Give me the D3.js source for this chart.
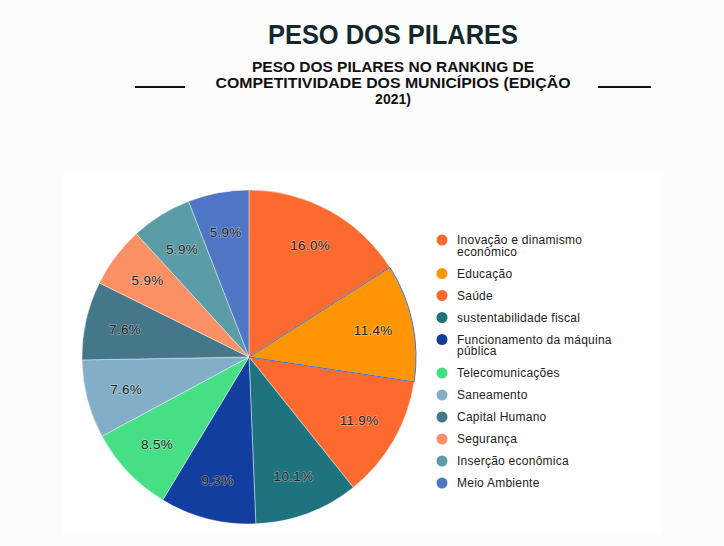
<!DOCTYPE html>
<html>
<head>
<meta charset="utf-8">
<script src="https://cdn.jsdelivr.net/npm/d3@7"></script>
<style>
  html, body { margin: 0; padding: 0; background: #fcfcfc; }
  svg { display: block; font-family: "Liberation Sans", Arial, sans-serif; }
</style>
</head>
<body>
<svg id="chart" width="724" height="546"></svg>
<script>
const categories = [
    "Inovação e dinamismo econômico",
    "Educação",
    "Saúde",
    "sustentabilidade fiscal",
    "Funcionamento da máquina pública",
    "Telecomunicações",
    "Saneamento",
    "Capital Humano",
    "Segurança",
    "Inserção econômica",
    "Meio Ambiente"
];
const weights = [16.0, 11.4, 11.9, 10.1, 9.3, 8.5, 7.6, 7.6, 5.9, 5.9, 5.9];
const colors = [
    "#fd6a30", "#fe9505", "#fd6a30", "#1e737f", "#123f9f", "#46df86",
    "#82afc7", "#437789", "#fc9065", "#5a9da6", "#4f76c4"
];
const title = "PESO DOS PILARES";
const subtitleLines = [
    "PESO DOS PILARES NO RANKING DE",
    "COMPETITIVIDADE DOS MUNICÍPIOS (EDIÇÃO",
    "2021)"
];

const data = categories.map((name, i) => ({ name, value: weights[i], color: colors[i] }));

const svg = d3.select("#chart");

// white panel behind chart
svg.append("rect")
    .attr("x", 63).attr("y", 172)
    .attr("width", 600).attr("height", 363)
    .attr("fill", "#ffffff");

// titles (stretched to the widths seen in the original)
svg.append("text")
    .attr("x", 393).attr("y", 44)
    .attr("text-anchor", "middle")
    .attr("font-size", 28)
    .attr("font-weight", "bold")
    .attr("fill", "#13282b")
    .attr("textLength", 250)
    .attr("lengthAdjust", "spacingAndGlyphs")
    .text(title);

const subWidths = [282, 355, null];
svg.append("g")
    .selectAll("text")
    .data(subtitleLines)
    .join("text")
    .attr("x", 393)
    .attr("y", (d, i) => 72 + i * 16)
    .attr("text-anchor", "middle")
    .attr("font-size", 14)
    .attr("font-weight", "bold")
    .attr("fill", "#111")
    .each(function(d, i) {
        if (subWidths[i]) {
            d3.select(this)
                .attr("textLength", subWidths[i])
                .attr("lengthAdjust", "spacingAndGlyphs");
        }
    })
    .text(d => d);

svg.append("line")
    .attr("x1", 135).attr("x2", 185).attr("y1", 87).attr("y2", 87)
    .attr("stroke", "#111").attr("stroke-width", 2);
svg.append("line")
    .attr("x1", 598).attr("x2", 651).attr("y1", 87).attr("y2", 87)
    .attr("stroke", "#111").attr("stroke-width", 2);

// pie
const cx = 249, cy = 357, radius = 167;

const pie = d3.pie()
    .value(d => d.value)
    .sort(null);

const arc = d3.arc()
    .innerRadius(0)
    .outerRadius(radius);

const labelArc = d3.arc()
    .innerRadius(127)
    .outerRadius(127);

const arcs = pie(data);

const pieG = svg.append("g")
    .attr("transform", `translate(${cx},${cy})`);

pieG.selectAll("path")
    .data(arcs)
    .join("path")
    .attr("d", arc)
    .attr("fill", d => d.data.color)
    .attr("stroke", "#ffffff")
    .attr("stroke-opacity", 0.6)
    .attr("stroke-width", 0.7);

// highlighted slice outline
pieG.append("path")
    .attr("d", arc(arcs[1]))
    .attr("fill", "none")
    .attr("stroke", "#3b6fd3")
    .attr("stroke-width", 1);

pieG.selectAll("text")
    .data(arcs)
    .join("text")
    .attr("transform", d => `translate(${labelArc.centroid(d)})`)
    .attr("text-anchor", "middle")
    .attr("dy", "0.35em")
    .attr("font-size", 13.5)
    .attr("letter-spacing", 0.3)
    .attr("fill", "#222")
    .attr("stroke", "#ffffff")
    .attr("stroke-opacity", 0.35)
    .attr("stroke-width", 1.5)
    .attr("paint-order", "stroke")
    .text(d => d.data.value.toFixed(1) + "%");

// legend
const legendX = 442, textX = 457, maxTextWidth = 160;
const legend = svg.append("g");

let rowY = 240;
data.forEach(d => {
    const row = legend.append("g").attr("transform", `translate(0,${rowY})`);
    row.append("circle")
        .attr("cx", legendX).attr("cy", 0).attr("r", 5.5)
        .attr("fill", d.color);

    // simple word wrap
    const words = d.name.split(" ");
    let lines = [], current = "";
    const probe = row.append("text")
        .attr("font-size", 12)
        .attr("letter-spacing", 0.25);
    words.forEach(w => {
        const attempt = current ? current + " " + w : w;
        probe.text(attempt);
        if (probe.node().getComputedTextLength() > maxTextWidth && current) {
            lines.push(current);
            current = w;
        } else {
            current = attempt;
        }
    });
    lines.push(current);
    probe.remove();

    lines.forEach((l, i) => {
        row.append("text")
            .attr("x", textX)
            .attr("y", 4 + i * 11.5)
            .attr("font-size", 12)
            .attr("letter-spacing", 0.25)
            .attr("fill", "#222")
            .text(l);
    });
    rowY += 22 + (lines.length - 1) * 11.5;
});
</script>
</body>
</html>
